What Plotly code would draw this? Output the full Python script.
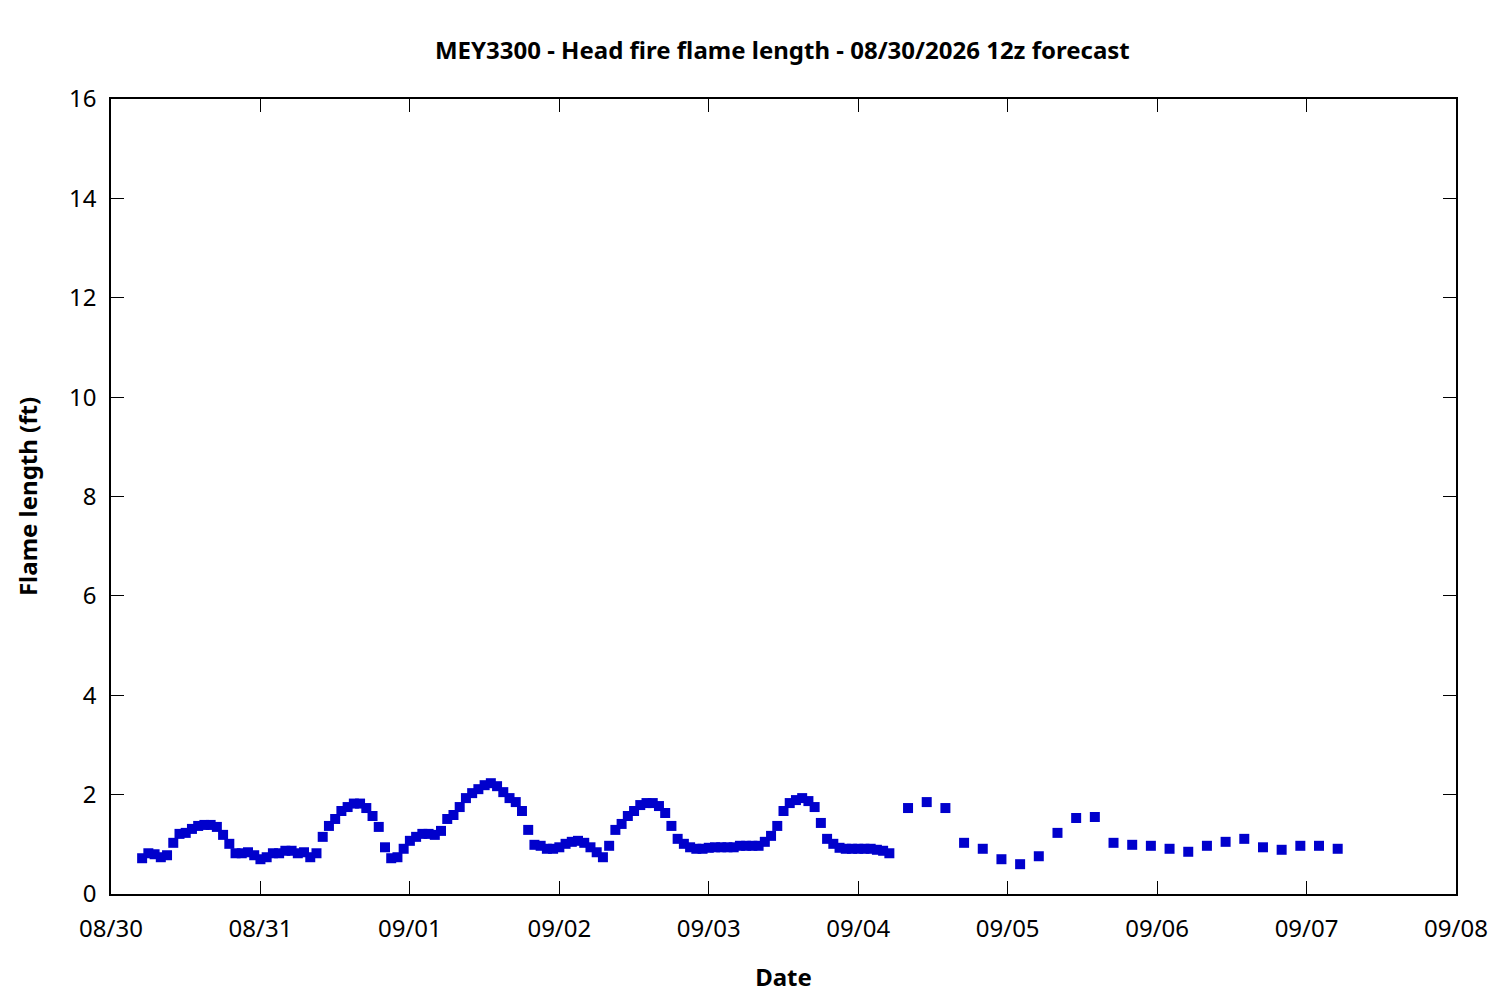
import pandas as pd
import plotly.graph_objects as go

# hours after 08/30/2026 00:00 (local) for each forecast point
hours_hourly = list(range(5, 126))
hours_3h = list(range(128, 198, 3))

# head fire flame length (ft), hourly part
flame_hourly = [
    0.72, 0.82, 0.80, 0.74, 0.78, 1.03, 1.21, 1.23, 1.31, 1.37,
    1.39, 1.39, 1.35, 1.19, 1.01, 0.82, 0.82, 0.84, 0.78, 0.70,
    0.74, 0.82, 0.82, 0.87, 0.87, 0.82, 0.84, 0.74, 0.82, 1.15,
    1.37, 1.51, 1.67, 1.75, 1.82, 1.82, 1.73, 1.57, 1.35, 0.94,
    0.72, 0.74, 0.91, 1.07, 1.15, 1.21, 1.21, 1.19, 1.27, 1.51,
    1.59, 1.75, 1.93, 2.03, 2.11, 2.19, 2.23, 2.17, 2.05, 1.93,
    1.85, 1.67, 1.29, 0.99, 0.97, 0.91, 0.91, 0.94, 1.01, 1.05,
    1.07, 1.03, 0.94, 0.84, 0.74, 0.97, 1.29, 1.41, 1.57, 1.67,
    1.79, 1.83, 1.83, 1.77, 1.63, 1.37, 1.11, 1.01, 0.94, 0.91,
    0.91, 0.93, 0.94, 0.94, 0.94, 0.94, 0.97, 0.97, 0.97, 0.97,
    1.05, 1.17, 1.37, 1.67, 1.83, 1.89, 1.93, 1.87, 1.75, 1.43,
    1.11, 1.01, 0.93, 0.91, 0.91, 0.91, 0.91, 0.91, 0.89, 0.87,
    0.82,
]

# 3-hourly part
flame_3h = [
    1.73, 1.85, 1.73, 1.03, 0.91, 0.70, 0.60, 0.76, 1.23, 1.53,
    1.55, 1.03, 0.99, 0.97, 0.91, 0.85, 0.97, 1.05, 1.11, 0.94,
    0.89, 0.97, 0.97, 0.91,
]

tick_labels = ["08/30", "08/31", "09/01", "09/02", "09/03",
               "09/04", "09/05", "09/06", "09/07", "09/08"]

start = pd.Timestamp("2026-08-30 00:00")
hours = hours_hourly + hours_3h
times = [start + pd.Timedelta(hours=h) for h in hours]
flame = flame_hourly + flame_3h

tick_vals = [start + pd.Timedelta(days=i) for i in range(len(tick_labels))]

font = "Noto Sans, Open Sans, sans-serif"

fig = go.Figure()
fig.add_trace(
    go.Scatter(
        x=times,
        y=flame,
        mode="markers",
        marker=dict(symbol="square", size=10, color="#0000cc"),
        showlegend=False,
    )
)

axis_common = dict(
    showline=True,
    linecolor="black",
    linewidth=1.5,
    mirror="ticks",
    ticks="inside",
    ticklen=13,
    tickwidth=1,
    tickcolor="black",
    showgrid=False,
    zeroline=False,
    tickfont=dict(size=24, color="black", family=font),
)

fig.update_layout(
    width=1492,
    height=992,
    plot_bgcolor="white",
    paper_bgcolor="white",
    margin=dict(l=103, r=44, t=91, b=106),
    title=dict(
        text="<b>MEY3300 - Head fire flame length - 08/30/2026 12z forecast</b>",
        x=0.519,
        xanchor="center",
        y=0.957,
        yanchor="middle",
        font=dict(size=24, color="black", family=font),
    ),
    xaxis=dict(
        range=[tick_vals[0], tick_vals[-1]],
        tickvals=tick_vals,
        ticktext=tick_labels,
        ticklabelstandoff=12,
        title=dict(text="<b>Date</b>", font=dict(size=24, family=font, color="black"), standoff=27),
        **axis_common,
    ),
    yaxis=dict(
        range=[0, 16],
        tickvals=list(range(0, 17, 2)),
        ticklabelstandoff=8,
        title=dict(text="<b>Flame length (ft)</b>", font=dict(size=24, family=font, color="black"), standoff=25),
        **axis_common,
    ),
)

fig.write_html("out.html")
